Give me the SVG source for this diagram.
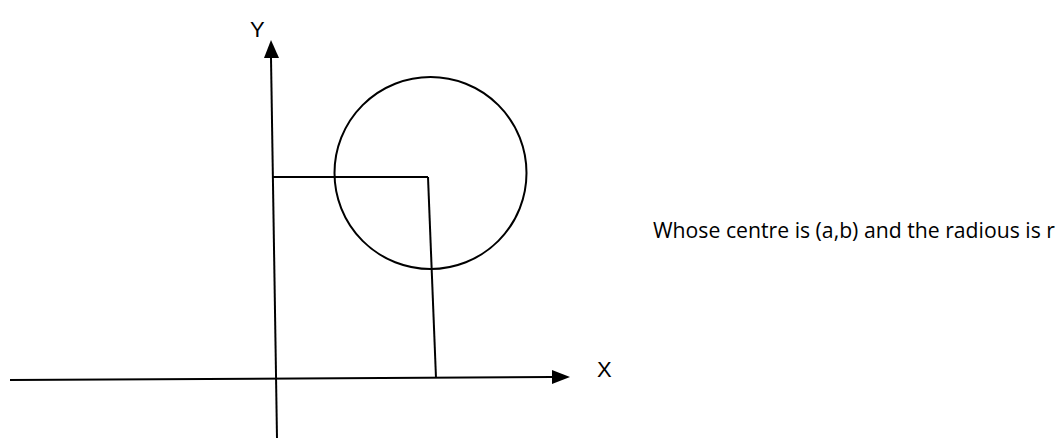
<svg xmlns="http://www.w3.org/2000/svg" width="1059" height="441" viewBox="0 0 1059 441">
<defs>
<style>
.ln{stroke:#000;stroke-width:2;fill:none}
.t{font-family:"Liberation Sans","Noto Sans",sans-serif;font-size:22px;fill:#000}
</style>
</defs>
<rect width="1059" height="441" fill="#fff"/>
<g id="connectors">
<line class="ln" x1="277" y1="438" x2="271" y2="58"/>
<path d="M271,40 L264,58 L279,58 z" fill="#000"/>
<line class="ln" x1="10" y1="380" x2="552" y2="377"/>
<path d="M570,377 L552,370 L552,384 z" fill="#000"/>
<line class="ln" x1="272" y1="177" x2="428" y2="177"/>
<line class="ln" x1="428" y1="177" x2="436" y2="378"/>
</g>
<g id="circle">
<circle class="ln" cx="430.5" cy="173" r="96"/>
</g>
<g id="labels">
<text class="t" x="250" y="37">Y</text>
<text class="t" x="597" y="377">X</text>
<text class="t" x="653" y="238" textLength="402" lengthAdjust="spacingAndGlyphs" style="font-family:'Open Sans','Noto Sans',sans-serif;font-size:21px">Whose centre is (a,b) and the radious is r</text>
</g>
</svg>
